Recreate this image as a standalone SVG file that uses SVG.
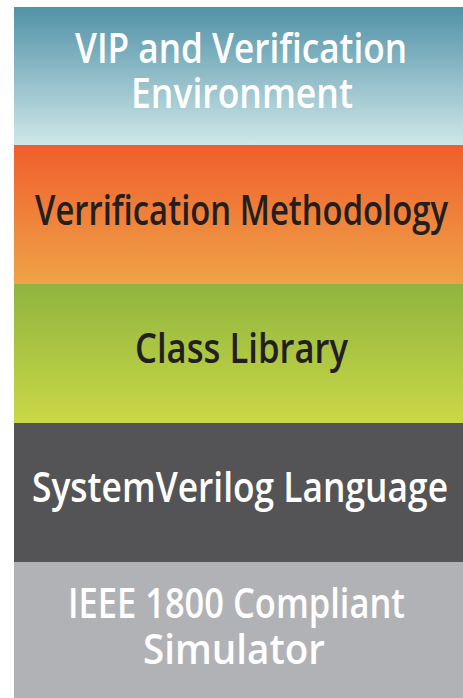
<svg xmlns="http://www.w3.org/2000/svg" width="463" height="698" viewBox="0 0 463 698">
  <defs>
    <linearGradient id="gTeal" x1="0" y1="0" x2="0" y2="1">
      <stop offset="0" stop-color="#5192a7"/>
      <stop offset="1" stop-color="#cfe7e9"/>
    </linearGradient>
    <linearGradient id="gOrange" x1="0" y1="0" x2="0" y2="1">
      <stop offset="0" stop-color="#f05e2c"/>
      <stop offset="1" stop-color="#eea347"/>
    </linearGradient>
    <linearGradient id="gGreen" x1="0" y1="0" x2="0" y2="1">
      <stop offset="0" stop-color="#8fb43f"/>
      <stop offset="1" stop-color="#cad845"/>
    </linearGradient>
  </defs>
  <style>
    text { font-family: "Open Sans", "Noto Sans", "Liberation Sans", sans-serif; font-size: 41px; font-weight: 600; text-anchor: middle; }
    .light { fill: #ffffff; }
    .dark { fill: #231f20; }
  </style>

  <!-- Layer stack, top to bottom -->
  <g id="vip-env">
    <rect x="14" y="7" width="449" height="138" fill="url(#gTeal)"/>
    <text class="light" x="241" y="63" textLength="332" lengthAdjust="spacingAndGlyphs">VIP and Verification</text>
    <text class="light" x="242" y="108" textLength="222" lengthAdjust="spacingAndGlyphs">Environment</text>
  </g>

  <g id="methodology">
    <rect x="14" y="145" width="449" height="139" fill="url(#gOrange)"/>
    <text class="dark" x="241.5" y="225" textLength="413" lengthAdjust="spacingAndGlyphs">Verrification Methodology</text>
  </g>

  <g id="class-library">
    <rect x="14" y="284" width="449" height="139" fill="url(#gGreen)"/>
    <text class="dark" x="241.5" y="363" textLength="213" lengthAdjust="spacingAndGlyphs">Class Library</text>
  </g>

  <g id="sv-language">
    <rect x="14" y="423" width="449" height="139" fill="#545456"/>
    <text class="light" x="240" y="502" textLength="416" lengthAdjust="spacingAndGlyphs">SystemVerilog Language</text>
  </g>

  <g id="simulator">
    <rect x="14" y="562" width="449" height="136" fill="#b1b2b6"/>
    <text class="light" x="236.5" y="618" textLength="337" lengthAdjust="spacingAndGlyphs">IEEE 1800 Compliant</text>
    <text class="light" x="234" y="664" textLength="182" lengthAdjust="spacingAndGlyphs">Simulator</text>
  </g>

  <g id="connectors"/>
</svg>
